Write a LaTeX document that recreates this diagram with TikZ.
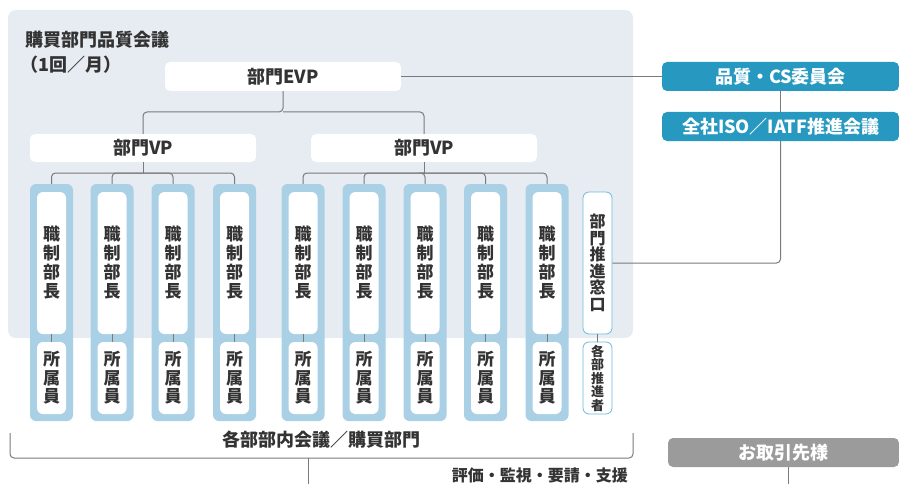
\documentclass[tikz,border=0pt]{standalone}
\usepackage{fontspec}
\setmainfont{Noto Sans CJK JP}
\definecolor{panel}{HTML}{E6ECF2}
\definecolor{colblue}{HTML}{A9D0E5}
\definecolor{teal}{HTML}{2799C1}
\definecolor{gbox}{HTML}{9B9B9B}
\definecolor{lgray}{HTML}{7A7A7A}
\definecolor{txt}{HTML}{333333}
\definecolor{winblue}{HTML}{6DB9DD}
\tikzset{
  conn/.style={draw=lgray, line width=1pt, rounded corners=4pt},
  whitebox/.style={fill=white, rounded corners=5pt, inner sep=0pt, text=txt, font=\fontsize{18}{18}\selectfont\bfseries},
  colbox/.style={fill=colblue, rounded corners=6pt, minimum width=43pt, minimum height=237pt, inner sep=0pt},
  upbox/.style={fill=white, rounded corners=6pt, minimum width=29pt, minimum height=142pt, inner sep=0pt, align=center, text=txt, font=\fontsize{17}{19}\selectfont\bfseries},
  lowbox/.style={fill=white, rounded corners=6pt, minimum width=29pt, minimum height=72pt, inner sep=0pt, align=center, text=txt, font=\fontsize{17}{18.5}\selectfont\bfseries},
  winbox/.style={fill=white, draw=winblue, line width=0.8pt, rounded corners=6pt, minimum width=29pt, inner sep=0pt, align=center, text=txt},
  tealbox/.style={fill=teal, rounded corners=5pt, minimum width=237pt, minimum height=29pt, inner sep=0pt, text=white, font=\fontsize{18}{18}\selectfont\bfseries},
  label/.style={inner sep=0pt, text=txt, font=\fontsize{18}{18}\selectfont\bfseries},
}
\begin{document}
\begin{tikzpicture}[x=1pt,y=-1pt]
\useasboundingbox (0,0) rectangle (899,484);
% background panel
\fill[panel, rounded corners=8pt] (8,10) rectangle (633,338);
\node[label, anchor=west] (title) at (25,40) {購買部門品質会議};
\node[label, anchor=west] (freq) at (20,65) {（1回／月）};

% EVP and VPs
\node[whitebox, minimum width=236pt, minimum height=29pt] (evp) at (283,76.5) {部門EVP};
\node[whitebox, minimum width=226pt, minimum height=28pt] (vp1) at (143,148) {部門VP};
\node[whitebox, minimum width=226pt, minimum height=28pt] (vp2) at (424,148) {部門VP};
\coordinate (j0) at (283,112);
\draw[conn] (evp.south) -- (j0) -| (vp1.north);
\draw[conn] (j0) -| (vp2.north);

% columns
\foreach \i/\x in {1/51.5,2/112,3/173,4/234.5,5/303,6/364,7/425,8/485.5,9/547}{
  \node[colbox] (c\i) at (\x,302.5) {};
  \node[upbox] (t\i) at (\x,263) {職\\制\\部\\長};
  \node[lowbox] (b\i) at (\x,378) {所\\属\\員};
  \draw[lgray, line width=0.8pt] (t\i.south) -- (b\i.north);
}
\coordinate (j1) at (143,173);
\coordinate (j2) at (424,173);
\draw[conn] (vp1.south) -- (j1);
\draw[conn] (j1) -| (c1.north);
\draw[conn] (j1) -| (c4.north);
\draw[conn] (j1) -| (c2.north);
\draw[conn] (j1) -| (c3.north);
\draw[conn] (vp2.south) -- (j2);
\draw[conn] (j2) -| (c5.north);
\draw[conn] (j2) -| (c9.north);
\draw[conn] (j2) -| (c6.north);
\draw[conn] (j2) -| (c7.north);
\draw[conn] (j2) -| (c8.north);

% window boxes
\node[winbox, minimum height=142pt, font=\fontsize{16}{16.5}\selectfont\bfseries] (win) at (597.5,263) {部\\門\\推\\進\\窓\\口};
\node[winbox, minimum height=72pt, font=\fontsize{13}{13.5}\selectfont\bfseries] (pro) at (597.5,378) {各\\部\\推\\進\\者};
\draw[lgray, line width=0.8pt] (win.south) -- (pro.north);

% right side
\node[tealbox] (qcs) at (780.5,76.5) {品質・CS委員会};
\node[tealbox] (iso) at (780.5,126.5) {全社ISO／IATF推進会議};
\draw[conn] (evp.east) -- (qcs.west);
\draw[conn] (qcs.south) -- (iso.north);
\draw[conn] (iso.south) |- (win.east);

% bottom bracket
\coordinate (bl) at (10,433);
\coordinate (blb) at (10,458);
\coordinate (brb) at (633,458);
\coordinate (br) at (633,433);
\draw[conn] (bl) -- (blb) -- (brb) -- (br);
\node[label] (dept) at (321,440) {各部部内会議／購買部門};
\coordinate (dn0) at (308,458);
\coordinate (dn1) at (308,484);
\draw[conn] (dn0) -- (dn1);
\node[label, font=\fontsize{16}{16}\selectfont\bfseries, anchor=east] (eval) at (628,475) {評価・監視・要請・支援};

% partner
\node[fill=gbox, rounded corners=5pt, minimum width=231pt, minimum height=29pt, inner sep=0pt, text=white, font=\fontsize{18}{18}\selectfont\bfseries] (partner) at (783.5,452.5) {お取引先様};
\coordinate (pd) at (788,484);
\draw[conn] (partner.south -| pd) -- (pd);
\end{tikzpicture}
\end{document}
